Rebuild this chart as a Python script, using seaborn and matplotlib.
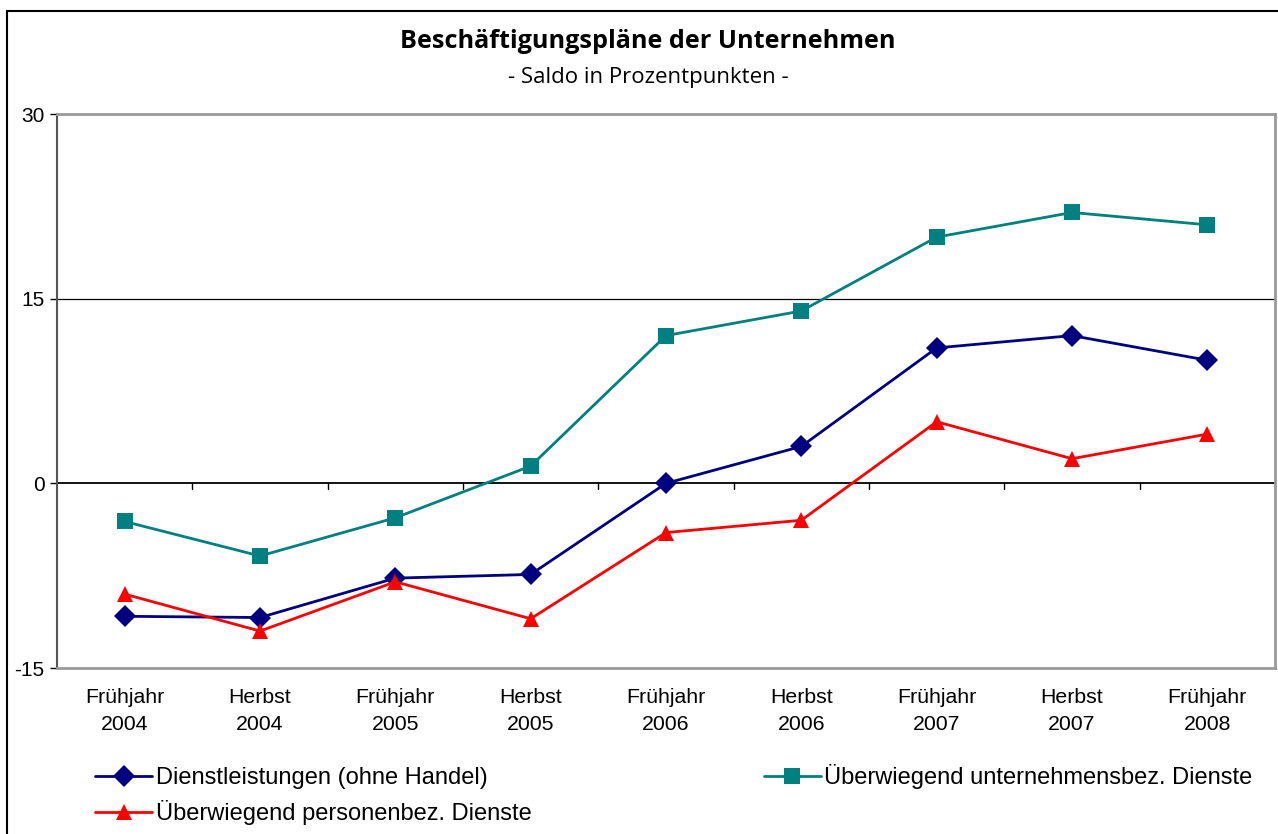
import pandas as pd
import numpy as np
import seaborn as sns
import matplotlib.pyplot as plt
from matplotlib.patches import Rectangle

## Data
periods = ['Frühjahr\n2004', 'Herbst\n2004', 'Frühjahr\n2005', 'Herbst\n2005', 'Frühjahr\n2006',
           'Herbst\n2006', 'Frühjahr\n2007', 'Herbst\n2007', 'Frühjahr\n2008']
dienstleistungen = [-10.8, -10.9, -7.7, -7.4, 0, 3, 11, 12, 10]
unternehmensbez = [-3.1, -5.9, -2.8, 1.4, 12, 14, 20, 22, 21]
personenbez = [-9, -12, -8, -11, -4, -3, 5, 2, 4]
y_ticks = [-15, 0, 15, 30]

names = ['Dienstleistungen (ohne Handel)', 'Überwiegend personenbez. Dienste',
         'Überwiegend unternehmensbez. Dienste']
series = [dienstleistungen, personenbez, unternehmensbez]

df = pd.DataFrame({
    'period': periods * 3,
    'saldo': [v for s in series for v in s],
    'reihe': [n for n in names for _ in periods],
})

palette = {names[0]: '#000080', names[1]: '#FF0000', names[2]: '#008080'}
markers = {names[0]: 'D', names[1]: '^', names[2]: 's'}

sns.set_style('white')
plt.rcParams['font.family'] = ['Liberation Sans', 'DejaVu Sans']
plt.rcParams['axes.unicode_minus'] = False
plt.rcParams['text.color'] = 'black'
plt.rcParams['xtick.color'] = 'black'
plt.rcParams['ytick.color'] = 'black'

fig = plt.figure(figsize=(12.78, 8.34), dpi=100)
ax = fig.add_axes([57 / 1278, 166 / 834, 1218 / 1278, 554 / 834])

sns.lineplot(data=df, x='period', y='saldo', hue='reihe', style='reihe', hue_order=names,
             style_order=names, palette=palette, markers=markers, dashes=False, ax=ax,
             linewidth=2, markersize=11, markeredgewidth=0, sort=False)

ax.set_xlim(-0.5, len(periods) - 0.5)
ax.set_ylim(-15, 30)
ax.set_yticks(y_ticks)
ax.set_xlabel('')
ax.set_ylabel('')

## Excel style frame, grid line and category axis at zero
for side in ['top', 'right', 'bottom']:
    ax.spines[side].set_color('#999999')
    ax.spines[side].set_linewidth(2)
ax.spines['left'].set_color('#555555')
ax.spines['left'].set_linewidth(1.5)
ax.axhline(15, color='black', lw=0.9, zorder=1)
ax.axhline(0, color='black', lw=1.3, zorder=1)
for b in np.arange(0.5, len(periods) - 1, 1):
    ax.plot([b, b], [0, -0.5], color='black', lw=1, zorder=1)

ax.tick_params(axis='y', left=True, length=5, width=1, color='black', labelsize=15, pad=4,
               labelcolor='black')
ax.tick_params(axis='x', bottom=False, labelsize=15.3, pad=11, labelcolor='black')
for t in ax.get_xticklabels():
    t.set_linespacing(1.55)

## Titles
fig.text(648 / 1278, 1 - 42 / 834, 'Beschäftigungspläne der Unternehmen', ha='center', va='center',
         fontsize=18.2, fontweight='bold', color='black', family=['Open Sans', 'DejaVu Sans'])
fig.text(648 / 1278, 1 - 78 / 834, '- Saldo in Prozentpunkten -', ha='center', va='center',
         fontsize=16, color='black', family=['Open Sans', 'DejaVu Sans'])

## Legend
handles, labels = ax.get_legend_handles_labels()
leg = fig.legend(handles, labels, loc='upper left', bbox_to_anchor=(86 / 1278, 1 - 755 / 834),
                 ncol=2, frameon=False, fontsize=17, handlelength=2.4, handletextpad=0.15,
                 columnspacing=9.85, labelspacing=0.46, borderaxespad=0)
for t in leg.get_texts():
    t.set_color('black')
ax.get_legend().remove()

## Outer chart border
fig.patches.append(Rectangle((7 / 1278, -0.1), 1.2, 1 - 11 / 834 + 0.1, transform=fig.transFigure,
                             fill=False, edgecolor='black', lw=1.5))

fig.savefig('out.png', dpi=100)
